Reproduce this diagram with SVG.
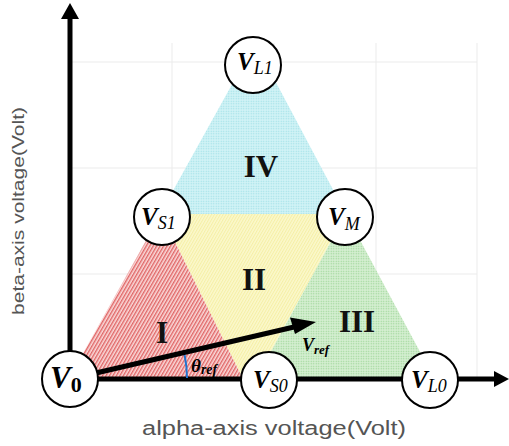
<svg xmlns="http://www.w3.org/2000/svg" width="509" height="446" viewBox="0 0 509 446">
<style>
.grid{stroke:#ebebeb;stroke-width:1;fill:none}
.node{fill:#fff;stroke:#000;stroke-width:2}
.vv{font-family:"Liberation Serif","DejaVu Serif",serif;font-weight:bold;font-style:italic;fill:#000}
.sub{font-family:"Liberation Serif","DejaVu Serif",serif;font-style:italic;fill:#000}
.rom{font-family:"Liberation Serif","Times New Roman",serif;font-weight:bold;font-size:31px;fill:#111}
.ax{font-family:"Liberation Sans",Arial,sans-serif;fill:#555}
.axis{stroke:#000;stroke-width:5;fill:none}
</style>
<defs>
<pattern id="hatch" width="3" height="3" patternUnits="userSpaceOnUse" patternTransform="rotate(30)">
<rect width="3" height="3" fill="#fadada"/><rect width="1.4" height="3" fill="#e06666"/>
</pattern>
<pattern id="dotB" width="2.5" height="2.5" patternUnits="userSpaceOnUse">
<rect width="2.5" height="2.5" fill="#d2f3f6"/><circle cx="1.25" cy="1.25" r="0.7" fill="#9cdfe6"/>
</pattern>
<pattern id="dotG" width="2.5" height="2.5" patternUnits="userSpaceOnUse">
<rect width="2.5" height="2.5" fill="#d6efd2"/><circle cx="1.25" cy="1.25" r="0.7" fill="#98d493"/>
</pattern>
<pattern id="dotY" width="2.5" height="2.5" patternUnits="userSpaceOnUse" patternTransform="rotate(30)">
<rect width="2.5" height="2.5" fill="#fbf8cc"/><rect width="1" height="2.5" fill="#f5efa6"/>
</pattern>
</defs>

<g id="grid">
<line class="grid" x1="70" y1="62" x2="477" y2="62"/>
<line class="grid" x1="70" y1="168" x2="477" y2="168"/>
<line class="grid" x1="70" y1="274" x2="477" y2="274"/>
<line class="grid" x1="172" y1="43" x2="172" y2="379"/>
<line class="grid" x1="274" y1="43" x2="274" y2="379"/>
<line class="grid" x1="376" y1="43" x2="376" y2="379"/>
<line class="grid" x1="477" y1="43" x2="477" y2="379"/>
</g>

<g id="regions">
<polygon id="region-IV" points="160,214 346,214 255,43" fill="url(#dotB)"/>
<polygon id="region-II" points="161,214 346,214 256,379 243,379" fill="url(#dotY)"/>
<polygon id="region-I" points="68.6,379 161,214 243,379" fill="url(#hatch)"/>
<polygon id="region-III" points="256,379 346,214 434.6,379" fill="url(#dotG)"/>
</g>

<g id="region-labels">
<text class="rom" x="162" y="343" text-anchor="middle">I</text>
<text class="rom" x="254" y="290" text-anchor="middle">II</text>
<text class="rom" x="357" y="332" text-anchor="middle">III</text>
<text class="rom" x="261" y="177" text-anchor="middle" font-size="32">IV</text>
</g>

<g id="connectors">
<line class="axis" x1="70" y1="360" x2="70" y2="16"/>
<polygon points="70,3 61,19 79,19" fill="#000"/>
<line class="axis" x1="70" y1="379" x2="496" y2="379"/>
<polygon points="509,379 494,371 494,387" fill="#000"/>
<line x1="96" y1="373" x2="294" y2="327" stroke="#000" stroke-width="5"/>
<polygon points="316,322 290,317.5 295,334" fill="#000"/>
<path d="M 184.6,355 A 117 117 0 0 1 187,378" fill="none" stroke="#1f74d0" stroke-width="2"/>
</g>

<g id="angle-labels">
<text x="191" y="372" class="vv" font-size="19">θ<tspan class="vv" font-size="14" dy="2">ref</tspan></text>
<text x="302" y="351" class="vv" font-size="18">V<tspan class="vv" font-size="13" dy="3">ref</tspan></text>
</g>

<g id="node-V0">
<circle class="node" cx="70" cy="379" r="28"/>
<text x="50" y="388" class="vv" font-size="31">V<tspan font-size="22" font-style="normal" dy="4">0</tspan></text>
</g>
<g id="node-VS0">
<circle class="node" cx="269" cy="380" r="28"/>
<text x="253" y="388" class="vv" font-size="25">V<tspan class="sub" font-weight="normal" font-size="18" dy="4">S0</tspan></text>
</g>
<g id="node-VL0">
<circle class="node" cx="430" cy="380" r="28"/>
<text x="411" y="388" class="vv" font-size="25">V<tspan class="sub" font-weight="normal" font-size="18" dy="4">L0</tspan></text>
</g>
<g id="node-VS1">
<circle class="node" cx="162" cy="217" r="28"/>
<text x="141" y="225" class="vv" font-size="25">V<tspan class="sub" font-weight="normal" font-size="18" dy="4">S1</tspan></text>
</g>
<g id="node-VM">
<circle class="node" cx="345" cy="217" r="28"/>
<text x="328" y="225" class="vv" font-size="25">V<tspan class="sub" font-weight="normal" font-size="18" dy="5">M</tspan></text>
</g>
<g id="node-VL1">
<circle class="node" cx="253" cy="65" r="28"/>
<text x="237" y="70" class="vv" font-size="25">V<tspan class="sub" font-weight="normal" font-size="18" dy="4">L1</tspan></text>
</g>

<g id="axis-labels">
<text class="ax" x="142" y="435" font-size="20" textLength="264" lengthAdjust="spacingAndGlyphs">alpha-axis voltage(Volt)</text>
<text class="ax" transform="translate(24,315) rotate(-90)" x="0" y="0" font-size="16" textLength="208" lengthAdjust="spacingAndGlyphs">beta-axis voltage(Volt)</text>
</g>
</svg>
